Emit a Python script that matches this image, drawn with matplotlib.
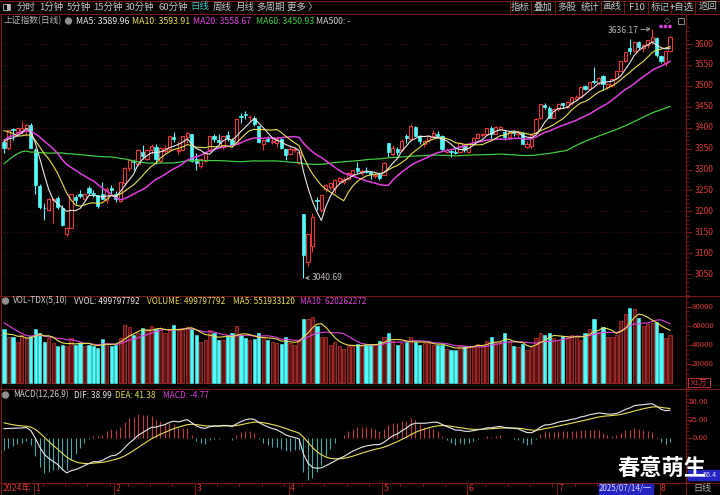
import numpy as np
import pandas as pd
import matplotlib
matplotlib.use('Agg')
import matplotlib.pyplot as plt
from matplotlib.transforms import blended_transform_factory
from matplotlib.patches import Rectangle, Circle

plt.rcParams['font.family'] = ['Noto Sans CJK SC', 'DejaVu Sans']

# trading days on screen: 2024-12-23 .. 2025-08-05
holidays = ['2025-01-01', '2025-01-28', '2025-01-29', '2025-01-30', '2025-01-31',
            '2025-02-03', '2025-02-04', '2025-04-04', '2025-05-01', '2025-05-02',
            '2025-05-05', '2025-06-02']
dates = pd.bdate_range('2024-12-23', '2025-08-05')
dates = dates[~dates.isin(pd.to_datetime(holidays))]

# closes before the window (2024-09-24 .. 2024-12-20), only to warm up MA / MACD
pre_close = [2863.1, 2896.3, 3000.9, 3087.5, 3336.5,
             3489.8, 3258.9, 3301.9, 3217.7, 3284.3, 3201.3, 3202.9, 3169.4, 3261.6,
             3268.1, 3285.9, 3302.8, 3280.3, 3299.7, 3322.2, 3286.4, 3266.2, 3279.8,
             3272.0, 3310.2, 3386.9, 3383.8, 3470.7, 3452.3, 3470.1, 3421.9, 3439.3,
             3379.8, 3330.7, 3323.8, 3346.0, 3367.9, 3370.4, 3267.2, 3263.8, 3259.8,
             3309.8, 3295.7, 3326.5,
             3363.9, 3378.8, 3364.7, 3368.9, 3404.1, 3402.5, 3422.7, 3432.5, 3461.5,
             3391.9, 3386.3, 3361.5, 3382.2, 3370.0, 3368.1]
pre_volume = [76000, 78000, 72000, 70000, 74000, 52000, 50000, 51000, 50700]

opens = [3366, 3352, 3396, 3390, 3393, 3399, 3407, 3347, 3261, 3208,
         3203, 3226, 3231, 3208, 3146, 3161, 3235, 3241, 3229, 3255,
         3245, 3238, 3242, 3226, 3256, 3241, 3225, 3268, 3303, 3321,
         3313, 3343, 3325, 3346, 3355, 3320, 3345, 3350, 3378, 3345,
         3347, 3377, 3384, 3325, 3308, 3320, 3345, 3379, 3371, 3355,
         3382, 3371, 3360, 3428, 3432, 3425, 3422, 3403, 3360, 3373,
         3366, 3363, 3372, 3349, 3336, 3346, 3315, 3193, 3079, 3117,
         3228, 3204, 3254, 3258, 3255, 3273, 3270, 3277, 3290, 3303,
         3291, 3297, 3294, 3284, 3290, 3287, 3363, 3337, 3350, 3346,
         3380, 3372, 3401, 3380, 3362, 3370, 3380, 3386, 3380, 3341,
         3344, 3343, 3342, 3358, 3343, 3362, 3376, 3382, 3386, 3399,
         3386, 3398, 3390, 3378, 3390, 3385, 3387, 3355, 3357, 3388,
         3422, 3455, 3448, 3424, 3445, 3458, 3450, 3460, 3468, 3473,
         3500, 3492, 3512, 3508, 3524, 3497, 3502, 3518, 3536, 3560,
         3590, 3584, 3605, 3591, 3598, 3608, 3614, 3572, 3555, 3583]
highs = [3370, 3393.6, 3400, 3399, 3417, 3410, 3411, 3352, 3266, 3221,
         3231, 3232, 3236, 3215, 3162, 3242, 3240, 3250, 3243, 3261,
         3250, 3238, 3271, 3258, 3263, 3248, 3271, 3305, 3323, 3326,
         3347, 3358, 3347, 3362, 3360, 3353, 3358, 3380, 3389, 3368,
         3380, 3389, 3385, 3339, 3327, 3343, 3381, 3384, 3385, 3380,
         3392, 3375, 3420, 3436, 3440, 3431, 3428, 3405, 3372, 3380,
         3377, 3381, 3375, 3350, 3356, 3353, 3345, 3194, 3146, 3195,
         3234, 3238, 3265, 3268, 3277, 3283, 3281, 3294, 3300, 3318,
         3302, 3305, 3297, 3292, 3293, 3317, 3363, 3358, 3354, 3372,
         3385, 3410, 3403, 3383, 3369, 3382, 3395, 3391, 3382, 3352,
         3347, 3348, 3365, 3359, 3364, 3377, 3387, 3388, 3400, 3403,
         3404, 3405, 3395, 3391, 3395, 3392, 3390, 3367, 3383, 3422,
         3457, 3458, 3453, 3446, 3459, 3460, 3463, 3474, 3477, 3497,
         3502, 3510, 3545, 3522, 3527, 3508, 3517, 3535, 3560, 3582,
         3613, 3606, 3608, 3599, 3610, 3636.17, 3617, 3574, 3583, 3618]
lows = [3340, 3346, 3370, 3383, 3386, 3380, 3351, 3242, 3205, 3180,
        3201, 3171, 3205, 3166, 3141, 3160, 3217, 3232, 3227, 3240,
        3234, 3208, 3230, 3220, 3242, 3223, 3222, 3262, 3296, 3299,
        3308, 3326, 3323, 3337, 3314, 3315, 3340, 3342, 3366, 3338,
        3347, 3364, 3317, 3300, 3304, 3318, 3345, 3365, 3362, 3350,
        3367, 3355, 3360, 3412, 3420, 3415, 3405, 3364, 3347, 3365,
        3362, 3355, 3350, 3322, 3334, 3342, 3313, 3040.69, 3070, 3103,
        3204, 3198, 3247, 3253, 3245, 3268, 3266, 3275, 3286, 3292,
        3286, 3291, 3278, 3280, 3274, 3287, 3331, 3332, 3335, 3345,
        3364, 3370, 3380, 3361, 3355, 3365, 3376, 3377, 3344, 3340,
        3330, 3336, 3340, 3342, 3340, 3361, 3372, 3378, 3384, 3372,
        3384, 3395, 3370, 3373, 3380, 3378, 3361, 3352, 3352, 3387,
        3420, 3445, 3423, 3423, 3440, 3448, 3447, 3455, 3465, 3473,
        3489, 3489, 3505, 3502, 3490, 3492, 3497, 3515, 3535, 3556,
        3576, 3580, 3588, 3580, 3590, 3600, 3570, 3555, 3548, 3582]
closes = [3351.9, 3393.5, 3394.0, 3398.1, 3400.1, 3407.3, 3351.8, 3262.6, 3211.4, 3206.9,
          3229.6, 3230.2, 3211.4, 3168.5, 3160.8, 3240.9, 3227.1, 3236.0, 3241.8, 3244.4,
          3242.6, 3213.6, 3230.2, 3252.6, 3250.6, 3229.5, 3270.7, 3303.7, 3322.2, 3318.1,
          3346.4, 3332.5, 3346.7, 3355.8, 3324.5, 3351.5, 3350.8, 3379.1, 3373.0, 3346.0,
          3380.2, 3388.1, 3320.9, 3316.1, 3324.5, 3342.0, 3381.1, 3372.6, 3366.2, 3379.8,
          3371.9, 3358.7, 3419.6, 3426.4, 3429.8, 3426.4, 3408.5, 3364.8, 3370.0, 3369.1,
          3368.7, 3373.8, 3351.3, 3335.8, 3348.4, 3350.1, 3342.0, 3096.6, 3145.6, 3186.8,
          3223.6, 3238.2, 3262.8, 3267.7, 3276.0, 3280.3, 3276.7, 3291.4, 3299.8, 3296.4,
          3297.3, 3295.1, 3288.4, 3286.7, 3279.0, 3316.1, 3342.7, 3352.0, 3342.0, 3369.2,
          3374.9, 3403.9, 3380.8, 3367.5, 3367.6, 3380.5, 3387.6, 3380.2, 3348.4, 3346.8,
          3340.7, 3339.9, 3363.5, 3347.5, 3361.9, 3376.2, 3384.1, 3385.4, 3399.8, 3384.8,
          3402.3, 3402.7, 3377.0, 3388.8, 3387.4, 3388.8, 3362.1, 3359.9, 3381.6, 3420.6,
          3455.9, 3448.4, 3424.2, 3444.4, 3457.8, 3454.8, 3461.2, 3472.3, 3473.1, 3497.5,
          3493.1, 3509.7, 3510.2, 3519.7, 3505.0, 3503.8, 3516.8, 3534.5, 3559.8, 3581.9,
          3582.3, 3605.7, 3593.7, 3597.9, 3609.7, 3615.7, 3573.2, 3559.9, 3583.3, 3617.6]
# volume, x1万
volume = [56300, 47700, 47700, 42700, 50300, 47000, 49300, 56300, 52000, 42700,
          47000, 42000, 38700, 40300, 38700, 47000, 40300, 42000, 38700, 40300,
          38700, 36300, 46300, 42000, 39300, 40300, 47000, 61000, 58700, 50300,
          52000, 57700, 57000, 59300, 57000, 55300, 52000, 55300, 60300, 56000,
          57000, 58700, 57000, 50300, 42700, 45300, 55300, 52000, 44700, 44700,
          49300, 52000, 59300, 50300, 47000, 44700, 46000, 52000, 48700, 45300,
          42700, 42000, 41300, 48000, 42000, 40300, 45300, 67000, 67000, 69300,
          59300, 48000, 48000, 40300, 42700, 39300, 36000, 40300, 39300, 41300,
          39300, 40300, 40300, 40300, 43700, 48000, 52000, 43700, 40300, 42000,
          42700, 47700, 42700, 39700, 42000, 42000, 40300, 39700, 39700, 35300,
          34700, 34300, 39700, 38700, 39300, 38700, 41000, 38700, 43700, 48700,
          42000, 42700, 52000, 43700, 38700, 38000, 41300, 34700, 38000, 47000,
          52000, 50300, 52700, 47000, 45300, 49700, 48000, 50300, 49300, 44700,
          52700, 57000, 67000, 53700, 58700, 48000, 48700, 50300, 64700, 72700,
          78000, 77000, 68000, 60000, 61300, 63000, 64000, 52000, 47000, 49980]

price_ticks = [3050, 3100, 3150, 3200, 3250, 3300, 3350, 3400, 3450, 3500, 3550, 3600]
vol_ticks = [20000, 40000, 60000, 80000]
macd_ticks = [0, 25, 50]

menu_left = [('分时', 26), ('1分钟', 51), ('5分钟', 79), ('15分钟', 108), ('30分钟', 140),
             ('60分钟', 173), ('日线', 200), ('周线', 222), ('月线', 245), ('多周期', 271),
             ('更多 〉', 302)]
menu_right = [('指标', 520), ('叠加', 543), ('多股', 567), ('统计', 590), ('画线', 612),
              ('F10', 637), ('标记', 660), ('+自选', 682), ('返回', 708)]

RED = '#e8393a'
CYAN = '#54fcfc'
AXRED = '#d83a3a'
BORDER = '#7a1818'
GRID = '#6a1616'
WHITE = '#e8e8e8'
YELLOW = '#e8e050'
MAGENTA = '#e040e0'
GREEN = '#40cc40'
GRAY = '#b8b8b8'

# ---- derived series ----
n = len(closes)
all_close = pd.Series(pre_close + closes)
ma = {k: all_close.rolling(k).mean().values[-n:] for k in (5, 10, 20, 60)}
all_vol = pd.Series(pre_volume + volume)
vma5 = all_vol.rolling(5).mean().values[-n:]
vma10 = all_vol.rolling(10).mean().values[-n:]
ema12 = all_close.ewm(span=12, adjust=False).mean()
ema26 = all_close.ewm(span=26, adjust=False).mean()
dif = ema12 - ema26
dea = dif.ewm(span=9, adjust=False).mean()
hist = (2 * (dif - dea)).values[-n:]
dif = dif.values[-n:]
dea = dea.values[-n:]

o = np.array(opens, float)
h = np.array(highs, float)
l = np.array(lows, float)
c = np.array(closes, float)
v = np.array(volume, float)
x = np.arange(n)
up = c >= o
dn = ~up

W, H = 720, 495
fig = plt.figure(figsize=(W / 100, H / 100), dpi=100, facecolor='black')


def px_axes(x0, y0, x1, y1, **kw):
    return fig.add_axes([x0 / W, 1 - y1 / H, (x1 - x0) / W, (y1 - y0) / H], **kw)


# pixel layout: candle i sits at 4 + 4.47 * i
XL = (-4 / 4.47, (686 - 4) / 4.47)
PLOT_R = 686


def style(ax, ylim, major, minor_step):
    ax.set_facecolor('black')
    ax.set_xlim(*XL)
    ax.set_ylim(*ylim)
    for s in ('left', 'top', 'bottom'):
        ax.spines[s].set_visible(False)
    ax.spines['right'].set_color(BORDER)
    ax.yaxis.tick_right()
    ax.set_xticks([])
    ax.set_yticks(major)
    ax.set_yticks(np.arange(ylim[0] - ylim[0] % minor_step, ylim[1], minor_step), minor=True)
    ax.tick_params(axis='y', which='major', length=4, color=BORDER, labelright=False)
    ax.tick_params(axis='y', which='minor', length=2, color=BORDER)
    for t in major:
        ax.axhline(t, color=GRID, lw=0.6, ls=(0, (1, 3)), zorder=0)
    tr = blended_transform_factory(fig.transFigure, ax.transData)
    return tr


# ---- price panel ----
ax = px_axes(0, 27, PLOT_R, 295)
tr = style(ax, (3008.5, 3640.7), price_ticks, 10)
for t in price_ticks:
    ax.text(714 / W, t, str(t), transform=tr, ha='right', va='center',
            color=AXRED, fontsize=6.2)
bw = 0.72
ax.vlines(x[up], h[up], np.maximum(o, c)[up], color=RED, lw=0.8)
ax.vlines(x[up], l[up], np.minimum(o, c)[up], color=RED, lw=0.8)
ax.vlines(x[dn], l[dn], h[dn], color=CYAN, lw=0.8)
ax.bar(x[up], (c - o)[up], bottom=o[up], width=bw, facecolor='black',
       edgecolor=RED, lw=0.8, zorder=3)
ax.bar(x[dn], (c - o)[dn], bottom=o[dn], width=bw, facecolor=CYAN,
       edgecolor=CYAN, lw=0.5, zorder=3)
ax.plot(x, ma[60], color=GREEN, lw=0.9, zorder=4)
ax.plot(x, ma[20], color=MAGENTA, lw=1.1, zorder=4)
ax.plot(x, ma[10], color=YELLOW, lw=0.8, zorder=4)
ax.plot(x, ma[5], color=WHITE, lw=0.8, zorder=4)
imax, imin = int(np.argmax(h)), int(np.argmin(l))
ax.annotate(f'{h[imax]:.2f}', xy=(x[imax], h[imax]), xytext=(-14, -2),
            textcoords='offset pixels', ha='right', va='center', color=GRAY,
            fontsize=6.2, arrowprops=dict(arrowstyle='->', color=GRAY, lw=0.6,
                                          shrinkA=0, shrinkB=1))
ax.annotate(f'{l[imin]:.2f}', xy=(x[imin], l[imin]), xytext=(8, 0),
            textcoords='offset pixels', ha='left', va='center', color=GRAY,
            fontsize=6.2, arrowprops=dict(arrowstyle='->', color=GRAY, lw=0.6,
                                          shrinkA=0, shrinkB=1))

# ---- volume panel ----
axv = px_axes(0, 296, PLOT_R, 388)
trv = style(axv, (-1000, 91000), vol_ticks, 5000)
for ln in axv.lines:
    ln.set_visible(ln.get_ydata()[0] == 60000)
for t in vol_ticks:
    axv.text(714 / W, t, str(t), transform=trv, ha='right', va='center',
             color=AXRED, fontsize=5.6)
axv.bar(x[up], v[up], width=bw, facecolor='#5a1414', edgecolor='#c83434', lw=0.5)
axv.bar(x[dn], v[dn], width=bw, facecolor=CYAN, edgecolor=CYAN, lw=0.4)
axv.plot(x, vma10, color=MAGENTA, lw=0.8)
axv.plot(x, vma5, color=YELLOW, lw=0.8)

# ---- MACD panel ----
axm = px_axes(0, 389, PLOT_R, 482)
trm = style(axm, (-56.1, 68.2), macd_ticks, 5)
for ln in axm.lines:
    ln.set_visible(False)
for t in macd_ticks:
    axm.text(708 / W, t, f'{t:.2f}', transform=trm, ha='right', va='center',
             color=AXRED, fontsize=5.6)
pos = hist >= 0
axm.vlines(x[pos], 0, hist[pos], color='#c03c3c', lw=0.8)
axm.vlines(x[~pos], 0, hist[~pos], color='#48a8a8', lw=0.8)
axm.plot(x, dea, color=YELLOW, lw=0.8)
axm.plot(x, dif, color=WHITE, lw=0.8)

# ---- frame, menus, titles ----
fr = fig.add_axes([0, 0, 1, 1], facecolor='none', zorder=5)
fr.set_xlim(0, W)
fr.set_ylim(H, 0)
fr.axis('off')
for yy in (0.5, 13.5, 295.5, 388.5, 482.5, 494.5):
    fr.plot([0, W], [yy, yy], color=BORDER, lw=0.8)
fr.plot([1, 1], [13.5, 494.5], color=BORDER, lw=0.8)
fr.plot([PLOT_R, PLOT_R], [13.5, 494.5], color=BORDER, lw=0.8)
for xx in (510, 531, 555, 601, 624, 648, 671, 695):
    fr.plot([xx, xx], [0.5, 13.5], color=BORDER, lw=0.7)
fr.add_patch(Rectangle((3, 3.5), 7, 6, fill=False, ec=GRAY, lw=0.6))
fr.add_patch(Rectangle((6.5, 3.5), 3.5, 6, color=GRAY, lw=0))
for s, xx in menu_left:
    fr.text(xx, 7, s, ha='center', va='center', fontsize=6.8,
            color='#40c8c8' if s == '日线' else '#c8c8c8')
for s, xx in menu_right:
    fr.text(xx, 7, s, ha='center', va='center', fontsize=6.8, color='#c8c8c8')

info = [('上证指数(日线)', 3, GRAY), ('MA5: 3589.96', 76, WHITE),
        ('MA10: 3593.91', 132, YELLOW), ('MA20: 3558.67', 193, MAGENTA),
        ('MA60: 3450.93', 256, GREEN), ('MA500: -', 316, '#d0d0d0')]
for s, xx, col in info:
    fr.text(xx, 21, s, ha='left', va='center', fontsize=6.3, color=col)
fr.add_patch(Circle((68.5, 21), 3, color='#909090'))

vol_info = [('VOL-TDX(5,10)', 13, '#d0d0d0'), ('VVOL: 499797792', 74, WHITE),
            ('VOLUME: 499797792', 147, YELLOW), ('MA5: 551933120', 233, YELLOW),
            ('MA10: 620262272', 300, MAGENTA)]
for s, xx, col in vol_info:
    fr.text(xx, 301, s, ha='left', va='center', fontsize=5.9, color=col)
fr.add_patch(Circle((5.5, 301), 3, color='#909090'))

macd_info = [('MACD(12,26,9)', 13, '#d0d0d0'), ('DIF: 38.99', 74, WHITE),
             ('DEA: 41.38', 115, YELLOW), ('MACD: -4.77', 163, MAGENTA)]
for s, xx, col in macd_info:
    fr.text(xx, 395, s, ha='left', va='center', fontsize=5.9, color=col)
fr.add_patch(Circle((5.5, 395), 3, color='#909090'))

# top-right icons
fr.text(667, 20.5, '◇', ha='center', va='center', fontsize=6, color='#a0a0a0',
        family='DejaVu Sans')
fr.add_patch(Rectangle((677.5, 17.5), 6, 6, fill=False, ec='#a0a0a0', lw=0.6))
for xx in (661, 665.5, 670):
    fr.add_patch(Circle((xx, 26.5), 1.1, color=MAGENTA))

# X1万 box
fr.add_patch(Rectangle((688, 378), 22, 9, fill=False, ec=AXRED, lw=0.6))
fr.text(699, 382.5, 'X1万', ha='center', va='center', fontsize=5.6, color=AXRED)

# date axis
def xpix(i):
    return 4 + 4.47 * i

fr.text(3, 488.5, '2024年', ha='left', va='center', fontsize=6.3, color=AXRED)
months = pd.Series(dates.month)
mstart = [i for i in range(1, n) if months[i] != months[i - 1]]
wstart = [i for i in range(1, n) if dates[i].weekday() < dates[i - 1].weekday()
          or (dates[i] - dates[i - 1]).days > 3]
for i in wstart:
    if i not in mstart:
        fr.plot([xpix(i) - 1.5] * 2, [482.5, 485.5], color=BORDER, lw=0.7)
for i in mstart:
    xx = xpix(i) - 1.5
    fr.plot([xx, xx], [482.5, 494.5], color=BORDER, lw=0.8)
    fr.text(xx + 1.5, 488.5, str(dates[i].month), ha='left', va='center',
            fontsize=6.3, color=AXRED)
sel = int(np.where(dates == pd.Timestamp('2025-07-14'))[0][0])
sx = xpix(sel)
fr.add_patch(Rectangle((sx, 483.5), 54, 10, color='#2424c0', zorder=6))
fr.text(sx + 27, 488.5, '2025/07/14/一', ha='center', va='center', fontsize=5.8,
        color='#d8d8ff', zorder=7)
fr.text(702, 488.5, '日线', ha='center', va='center', fontsize=6.5, color='#b0b0b0')

# crosshair value box on right axis (mostly hidden under the watermark)
fr.add_patch(Rectangle((688, 470), 32, 10, color='#2424c0', zorder=6))
fr.text(717, 475, '56.4', ha='right', va='center', fontsize=5.2, color='#d8d8ff', zorder=7)

# watermark
fig.text(662 / W, 1 - 468 / H, '春意萌生', ha='center', va='center', fontsize=16,
         fontweight='bold', color='white', zorder=10)

fig.savefig('out.png', dpi=100, facecolor='black')
